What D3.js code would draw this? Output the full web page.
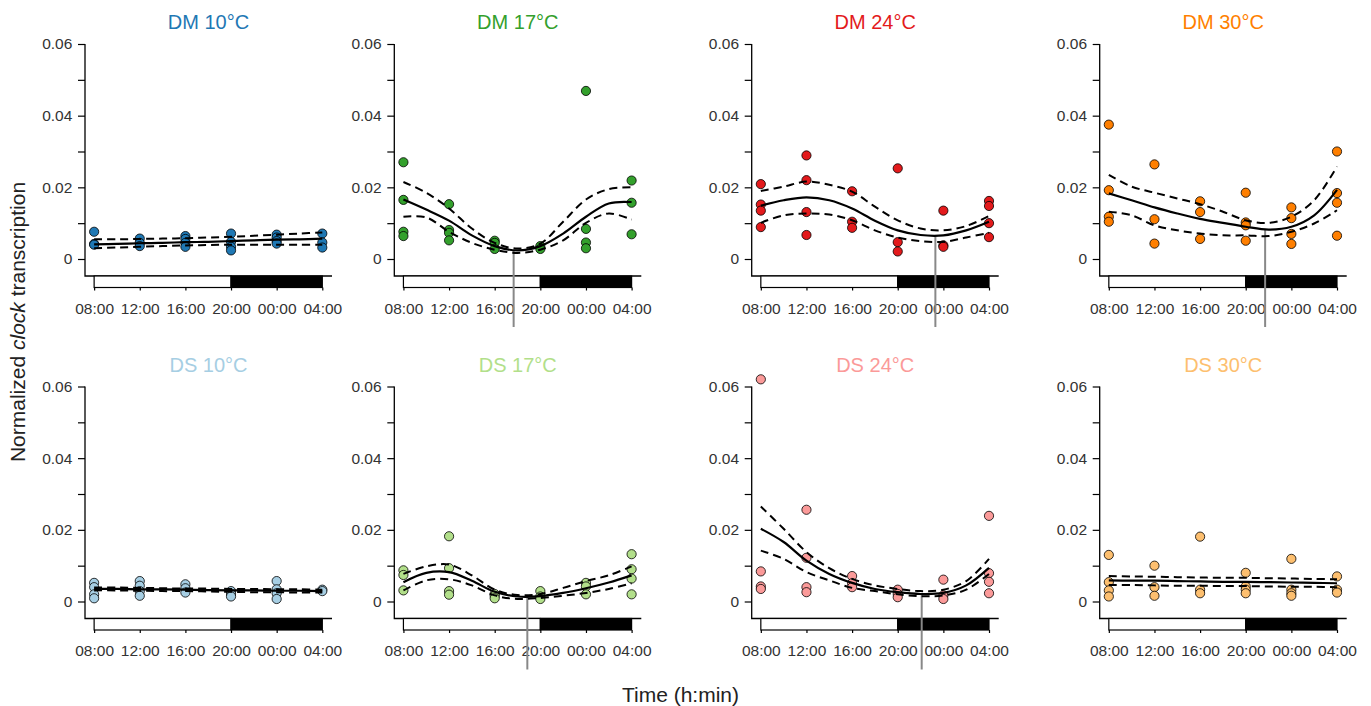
<!DOCTYPE html>
<html>
<head>
<meta charset="utf-8">
<script src="https://cdn.jsdelivr.net/npm/d3@7"></script>
<style>
  body { margin: 0; background: #fff; }
  svg { font-family: "Liberation Sans", Arial, sans-serif; }
</style>
</head>
<body>
<svg id="chart" width="1371" height="706"></svg>
<script>
// sampling times, hours after 08:00
var hours = [0, 4, 8, 12, 16, 20];
var tickLabels = ["08:00", "12:00", "16:00", "20:00", "00:00", "04:00"];
var fitHours = [0, 2, 4, 6, 8, 10, 12, 14, 16, 18, 20];
var yTicks = [0, 0.01, 0.02, 0.03, 0.04, 0.05, 0.06];
var yLabels = ["0", "", "0.02", "", "0.04", "", "0.06"];

var panelNames = ["DM 10°C", "DM 17°C", "DM 24°C", "DM 30°C",
                  "DS 10°C", "DS 17°C", "DS 24°C", "DS 30°C"];
var panelColors = ["#1f78b4", "#33a02c", "#e31a1c", "#ff7f00",
                   "#a6cee3", "#b2df8a", "#fb9a99", "#fdbf6f"];

// measured points, one list per sampling time
var dm10Pts = [[0.0076, 0.0042, 0.0040], [0.0057, 0.0045, 0.0036], [0.0064, 0.0056, 0.0045, 0.0034],
               [0.0071, 0.0048, 0.0034, 0.0024], [0.0068, 0.0060, 0.0050, 0.0043], [0.0071, 0.0046, 0.0032]];
var dm17Pts = [[0.0270, 0.0165, 0.0076, 0.0064], [0.0153, 0.0081, 0.0073, 0.0052], [0.0051, 0.0045, 0.0028],
               [0.0036, 0.0028], [0.0469, 0.0084, 0.0046, 0.0030], [0.0219, 0.0157, 0.0069]];
var dm24Pts = [[0.0209, 0.0152, 0.0135, 0.0089], [0.0289, 0.0220, 0.0131, 0.0067], [0.0189, 0.0104, 0.0087],
               [0.0253, 0.0047, 0.0021], [0.0135, 0.0038, 0.0034], [0.0162, 0.0148, 0.0100, 0.0061]];
var dm30Pts = [[0.0375, 0.0192, 0.0118, 0.0104], [0.0264, 0.0111, 0.0043], [0.0161, 0.0131, 0.0056],
               [0.0185, 0.0102, 0.0094, 0.0051], [0.0144, 0.0114, 0.0070, 0.0042], [0.0300, 0.0184, 0.0157, 0.0065]];
var ds10Pts = [[0.0052, 0.0040, 0.0020, 0.0009], [0.0057, 0.0044, 0.0029, 0.0016], [0.0048, 0.0037, 0.0025],
               [0.0029, 0.0021, 0.0014], [0.0057, 0.0034, 0.0023, 0.0007], [0.0033, 0.0029]];
var ds17Pts = [[0.0087, 0.0074, 0.0031], [0.0182, 0.0093, 0.0029, 0.0019], [0.0021, 0.0016, 0.0009],
               [0.0029, 0.0014, 0.0007], [0.0052, 0.0042, 0.0020], [0.0132, 0.0090, 0.0064, 0.0020]];
var ds24Pts = [[0.0620, 0.0084, 0.0042, 0.0035], [0.0256, 0.0122, 0.0040, 0.0026], [0.0071, 0.0051, 0.0040],
               [0.0033, 0.0021, 0.0012], [0.0061, 0.0017, 0.0007], [0.0239, 0.0079, 0.0055, 0.0023]];
var ds30Pts = [[0.0130, 0.0054, 0.0031, 0.0014], [0.0100, 0.0040, 0.0016], [0.0181, 0.0033, 0.0023],
               [0.0080, 0.0042, 0.0033, 0.0023], [0.0119, 0.0033, 0.0023, 0.0016], [0.0070, 0.0033, 0.0025]];

// fitted curve and its confidence band, read at fitHours
var dm10Fit = [0.0041, 0.0042, 0.0044, 0.0045, 0.0047, 0.0048, 0.0050, 0.0052, 0.0054, 0.0055, 0.0057];
var dm10Hi  = [0.0055, 0.0055, 0.0056, 0.0057, 0.0058, 0.0060, 0.0062, 0.0065, 0.0068, 0.0071, 0.0074];
var dm10Lo  = [0.0030, 0.0032, 0.0034, 0.0036, 0.0038, 0.0039, 0.0040, 0.0040, 0.0040, 0.0040, 0.0040];
var dm17Fit = [0.0166, 0.0138, 0.0107, 0.0066, 0.0036, 0.0024, 0.0036, 0.0071, 0.0118, 0.0155, 0.0159];
var dm17Hi  = [0.0215, 0.0185, 0.0141, 0.0085, 0.0045, 0.0029, 0.0043, 0.0104, 0.0166, 0.0195, 0.0200];
var dm17Lo  = [0.0118, 0.0116, 0.0076, 0.0045, 0.0026, 0.0017, 0.0026, 0.0052, 0.0101, 0.0127, 0.0110];
var dm24Fit = [0.0149, 0.0164, 0.0172, 0.0164, 0.0141, 0.0107, 0.0080, 0.0067, 0.0066, 0.0080, 0.0104];
var dm24Hi  = [0.0190, 0.0202, 0.0216, 0.0207, 0.0188, 0.0146, 0.0108, 0.0085, 0.0080, 0.0092, 0.0120];
var dm24Lo  = [0.0101, 0.0122, 0.0127, 0.0124, 0.0108, 0.0080, 0.0060, 0.0050, 0.0048, 0.0060, 0.0073];
var dm30Fit = [0.0183, 0.0164, 0.0144, 0.0127, 0.0112, 0.0101, 0.0090, 0.0082, 0.0090, 0.0122, 0.0193];
var dm30Hi  = [0.0235, 0.0202, 0.0185, 0.0169, 0.0153, 0.0132, 0.0108, 0.0101, 0.0118, 0.0164, 0.0258];
var dm30Lo  = [0.0132, 0.0122, 0.0094, 0.0080, 0.0071, 0.0066, 0.0066, 0.0064, 0.0076, 0.0099, 0.0136];
var ds10Fit = [0.0035, 0.0035, 0.0034, 0.0034, 0.0033, 0.0032, 0.0031, 0.0031, 0.0030, 0.0030, 0.0029];
var ds10Hi  = [0.0039, 0.0039, 0.0038, 0.0037, 0.0036, 0.0036, 0.0035, 0.0035, 0.0034, 0.0034, 0.0033];
var ds10Lo  = [0.0031, 0.0031, 0.0030, 0.0029, 0.0029, 0.0028, 0.0027, 0.0026, 0.0026, 0.0025, 0.0025];
var ds17Fit = [0.0054, 0.0080, 0.0082, 0.0058, 0.0027, 0.0014, 0.0015, 0.0024, 0.0037, 0.0053, 0.0073];
var ds17Hi  = [0.0077, 0.0098, 0.0103, 0.0073, 0.0033, 0.0018, 0.0021, 0.0038, 0.0057, 0.0073, 0.0098];
var ds17Lo  = [0.0031, 0.0059, 0.0062, 0.0045, 0.0017, 0.0007, 0.0010, 0.0016, 0.0024, 0.0035, 0.0051];
var ds24Fit = [0.0203, 0.0166, 0.0114, 0.0077, 0.0052, 0.0035, 0.0026, 0.0021, 0.0024, 0.0045, 0.0094];
var ds24Hi  = [0.0265, 0.0203, 0.0138, 0.0093, 0.0063, 0.0045, 0.0035, 0.0029, 0.0033, 0.0057, 0.0119];
var ds24Lo  = [0.0142, 0.0119, 0.0082, 0.0059, 0.0038, 0.0029, 0.0020, 0.0015, 0.0017, 0.0033, 0.0077];
var ds30Fit = [0.0059, 0.0058, 0.0058, 0.0057, 0.0056, 0.0055, 0.0055, 0.0054, 0.0053, 0.0052, 0.0051];
var ds30Hi  = [0.0071, 0.0070, 0.0069, 0.0068, 0.0067, 0.0066, 0.0066, 0.0065, 0.0064, 0.0063, 0.0062];
var ds30Lo  = [0.0046, 0.0046, 0.0045, 0.0044, 0.0044, 0.0043, 0.0043, 0.0042, 0.0041, 0.0041, 0.0040];

// trough time (hours after 08:00) and trough value, null where no rhythm
var troughHour = [null, 9.66, 15.3, 13.7, null, 10.86, 14.1, null];
var troughVal  = [null, 0.0024, 0.0064, 0.0082, null, 0.0013, 0.0021, null];

var allPts = [dm10Pts, dm17Pts, dm24Pts, dm30Pts, ds10Pts, ds17Pts, ds24Pts, ds30Pts];
var allFit = [dm10Fit, dm17Fit, dm24Fit, dm30Fit, ds10Fit, ds17Fit, ds24Fit, ds30Fit];
var allHi  = [dm10Hi, dm17Hi, dm24Hi, dm30Hi, ds10Hi, ds17Hi, ds24Hi, ds30Hi];
var allLo  = [dm10Lo, dm17Lo, dm24Lo, dm30Lo, ds10Lo, ds17Lo, ds24Lo, ds30Lo];

var colX = [85, 394.3, 751.7, 1099.7];
var rowOff = [0, 342.5];
var boxW = 247;

var svg = d3.select("#chart");

for (let p = 0; p < 8; p++) {
    drawPanel(p);
}

function drawPanel(p){
    let ax = colX[p % 4];
    let off = rowOff[Math.floor(p / 4)];
    let g = svg.append("g");

    let x = d3.scaleLinear().domain([-0.8, 20.85]).range([ax, ax + boxW]);
    let y = d3.scaleLinear().domain([0, 0.06]).range([259 + off, 44 + off]);
    let bottom = 276 + off;
    let barB = 287.5 + off;

    // title
    g.append("text")
        .attr("x", ax + 123.5).attr("y", 29 + off)
        .attr("text-anchor", "middle")
        .attr("font-size", "20px")
        .attr("fill", panelColors[p])
        .text(panelNames[p]);

    // y axis
    let yAxis = d3.axisLeft(y).tickValues(yTicks).tickSize(7).tickSizeOuter(0).tickPadding(5.7)
        .tickFormat(function(d, i){ return yLabels[i]; });
    let ya = g.append("g").attr("transform", "translate(" + ax + ",0)").call(yAxis);
    ya.select(".domain").remove();
    ya.selectAll("line").attr("stroke", "#000").attr("stroke-width", 1.2);
    ya.selectAll("text").attr("font-size", "15.5px").attr("fill", "#333")
        .attr("font-family", "Liberation Sans, Arial, sans-serif");

    // L-shaped frame
    g.append("path")
        .attr("d", "M" + ax + "," + (44 + off) + "V" + bottom + "H" + (ax + boxW))
        .attr("fill", "none").attr("stroke", "#000").attr("stroke-width", 1.3);

    // light / dark bar
    g.append("rect")
        .attr("x", x(0)).attr("y", bottom)
        .attr("width", x(12) - x(0)).attr("height", barB - bottom)
        .attr("fill", "#fff").attr("stroke", "#000").attr("stroke-width", 1.2);
    g.append("rect")
        .attr("x", x(12)).attr("y", bottom)
        .attr("width", x(20) - x(12)).attr("height", barB - bottom)
        .attr("fill", "#000").attr("stroke", "#000").attr("stroke-width", 1.2);

    // x axis ticks
    let xAxis = d3.axisBottom(x).tickValues(hours).tickSize(3).tickSizeOuter(0).tickPadding(12)
        .tickFormat(function(d, i){ return tickLabels[i]; });
    let xa = g.append("g").attr("transform", "translate(0," + barB + ")").call(xAxis);
    xa.select(".domain").remove();
    xa.selectAll("line").attr("stroke", "#000").attr("stroke-width", 1.2);
    xa.selectAll("text").attr("font-size", "15.5px").attr("fill", "#333")
        .attr("font-family", "Liberation Sans, Arial, sans-serif");

    // trough marker
    if (troughHour[p] !== null) {
        g.append("line")
            .attr("x1", x(troughHour[p])).attr("x2", x(troughHour[p]))
            .attr("y1", y(troughVal[p])).attr("y2", 327 + off)
            .attr("stroke", "#888").attr("stroke-width", 2);
    }

    // points
    let flat = [];
    allPts[p].forEach(function(vals, i){
        vals.forEach(function(v){ flat.push({h: hours[i], v: v}); });
    });
    g.selectAll("circle").data(flat).enter().append("circle")
        .attr("cx", function(d){ return x(d.h); })
        .attr("cy", function(d){ return y(d.v); })
        .attr("r", 4.6)
        .attr("fill", panelColors[p])
        .attr("stroke", "#000").attr("stroke-width", 0.8);

    // fit + band
    let line = d3.line()
        .x(function(d, i){ return x(fitHours[i]); })
        .y(function(d){ return y(d); })
        .curve(d3.curveCatmullRom);
    g.append("path").attr("d", line(allHi[p]))
        .attr("fill", "none").attr("stroke", "#000").attr("stroke-width", 2).attr("stroke-dasharray", "8,5");
    g.append("path").attr("d", line(allLo[p]))
        .attr("fill", "none").attr("stroke", "#000").attr("stroke-width", 2).attr("stroke-dasharray", "8,5");
    g.append("path").attr("d", line(allFit[p]))
        .attr("fill", "none").attr("stroke", "#000").attr("stroke-width", 2.2);
}

// shared axis titles
let yt = svg.append("text")
    .attr("transform", "translate(25,322) rotate(-90)")
    .attr("text-anchor", "middle")
    .attr("font-size", "21px")
    .attr("fill", "#222");
yt.append("tspan").text("Normalized ");
yt.append("tspan").attr("font-style", "italic").text("clock");
yt.append("tspan").text(" transcription");

svg.append("text")
    .attr("x", 680.5).attr("y", 702)
    .attr("text-anchor", "middle")
    .attr("font-size", "21px")
    .attr("fill", "#222")
    .text("Time (h:min)");
</script>
</body>
</html>
